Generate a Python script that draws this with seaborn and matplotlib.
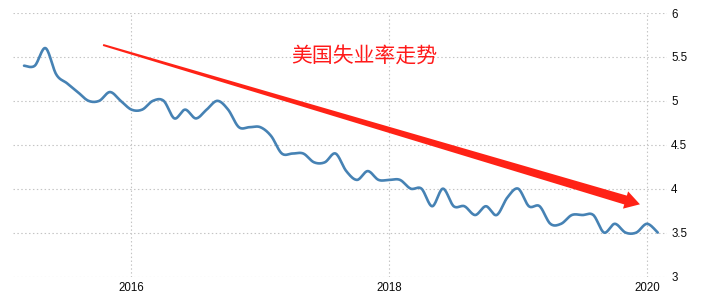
import numpy as np
import pandas as pd
import matplotlib
matplotlib.use("Agg")
import matplotlib.pyplot as plt
import seaborn as sns
from matplotlib.patches import Polygon
from matplotlib.transforms import IdentityTransform

# ---------------- data ----------------
start_month = "2015-03"
end_month = "2020-02"
unemployment_rate = [
    5.4, 5.4, 5.6, 5.3, 5.2, 5.1, 5.0, 5.0, 5.1, 5.0,            # 2015 Mar-Dec
    4.9, 4.9, 5.0, 5.0, 4.8, 4.9, 4.8, 4.9, 5.0, 4.9, 4.7, 4.7,  # 2016
    4.7, 4.6, 4.4, 4.4, 4.4, 4.3, 4.3, 4.4, 4.2, 4.1, 4.2, 4.1,  # 2017
    4.1, 4.1, 4.0, 4.0, 3.8, 4.0, 3.8, 3.8, 3.7, 3.8, 3.7, 3.9,  # 2018
    4.0, 3.8, 3.8, 3.6, 3.6, 3.7, 3.7, 3.7, 3.5, 3.6, 3.5, 3.5,  # 2019
    3.6, 3.5,                                                    # 2020 Jan-Feb
]
x_ticks = [2016, 2018, 2020]
x_tick_labels = ["2016", "2018", "2020"]
y_ticks = [3, 3.5, 4, 4.5, 5, 5.5, 6]
y_tick_labels = ["3", "3.5", "4", "4.5", "5", "5.5", "6"]
title_text = "美国失业率走势"
arrow_start = (2015.78, 5.636)
arrow_end = (2019.945, 3.822)

months = pd.date_range(start_month, end_month, freq="MS")
xpos = months.year + (months.month - 1) / 12.0
df = pd.DataFrame({"x": xpos, "rate": unemployment_rate})


def smooth_spline(xs, ys, n=16):
    """Catmull-Rom smoothed curve through the points (drawing only)."""
    P = np.column_stack([np.asarray(xs, float), np.asarray(ys, float)])
    N = len(P)
    ext = np.vstack([P[0], P, P[-1]])
    ox, oy = [P[0, 0]], [P[0, 1]]
    t = np.linspace(0, 1, n + 1)[1:]
    for i in range(N - 1):
        pm1, p0, p1, p2 = ext[i], ext[i + 1], ext[i + 2], ext[i + 3]
        c1 = p0 + (p1 - pm1) / 6.0
        c2 = p1 - (p2 - p0) / 6.0
        b = ((1 - t) ** 3)[:, None] * p0 + (3 * (1 - t) ** 2 * t)[:, None] * c1 \
            + (3 * (1 - t) * t ** 2)[:, None] * c2 + (t ** 3)[:, None] * p1
        ox.extend(b[:, 0]); oy.extend(b[:, 1])
    return np.array(ox), np.array(oy)


sx, sy = smooth_spline(df["x"], df["rate"])
smooth = pd.DataFrame({"x": sx, "rate": sy})

# ---------------- figure ----------------
sns.set_theme(style="white")
plt.rcParams["font.family"] = ["Liberation Sans", "DejaVu Sans"]

W, H = 726, 306
fig = plt.figure(figsize=(W / 100, H / 100), dpi=100)
ax = fig.add_axes([13 / W, 1 - 276.5 / H, (667 - 13) / W, (276.5 - 13) / H])

sns.lineplot(data=smooth, x="x", y="rate", ax=ax, sort=False, estimator=None,
             color="#4682b4", linewidth=1.9, solid_capstyle="round")

ax.set_xlim(2015.081, 2020.155)
ax.set_ylim(3, 6)

ax.yaxis.tick_right()
ax.set_yticks(y_ticks)
ax.set_yticklabels(y_tick_labels)
ax.set_xticks(x_ticks)
ax.set_xticklabels(x_tick_labels)
ax.tick_params(axis="both", length=0, labelsize=8.3, colors="#0a0a0a")
ax.tick_params(axis="y", pad=3)
ax.tick_params(axis="x", pad=4)
ax.set_xlabel("")
ax.set_ylabel("")
for sp in ax.spines.values():
    sp.set_visible(False)

ax.grid(True, axis="both", color="#c4c4c4", linewidth=0.8,
        linestyle=(0, (1.3, 2.2)))
ax.set_axisbelow(True)

# title text
ax.text((364 - 13) / 654, (276.5 - 56) / 263.5, title_text,
        transform=ax.transAxes, ha="center", va="center",
        fontsize=15, color="#ff1a1a",
        family=["Noto Sans CJK SC", "DejaVu Sans"])

# tapered red arrow (built in display pixels)
p0 = ax.transData.transform(arrow_start)
p1 = ax.transData.transform(arrow_end)
u = (p1 - p0) / np.hypot(*(p1 - p0))
nrm = np.array([-u[1], u[0]])
head_len = 15.0
base = p1 - u * head_len
pts = [p0 + nrm * 1.0, base + nrm * 4.6, base + nrm * 9.0, p1,
       base - nrm * 9.0, base - nrm * 4.6, p0 - nrm * 1.0]
arrow = Polygon(pts, closed=True, transform=IdentityTransform(),
                facecolor="#ff2216", edgecolor="none", zorder=5)
fig.patches.append(arrow)
arrow.set_figure(fig)

fig.savefig("out.png", dpi=100)
